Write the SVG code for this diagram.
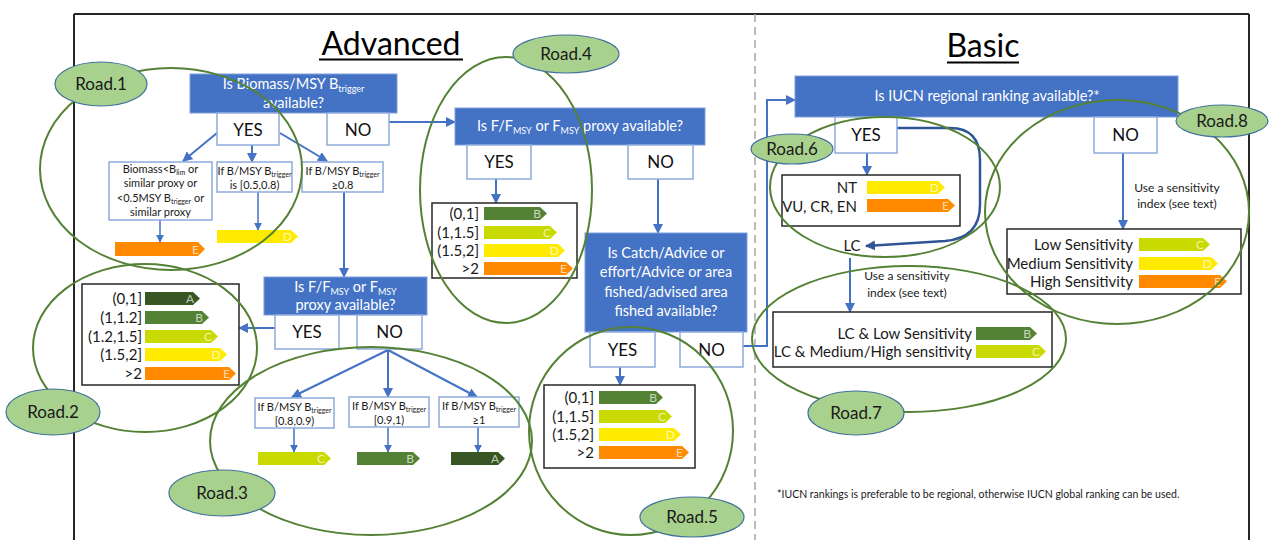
<svg xmlns="http://www.w3.org/2000/svg" width="1276" height="540" viewBox="0 0 1276 540">
<defs>
<style>
text{font-family:Lato,'Liberation Sans',sans-serif}
.q{fill:#4472C4;stroke:#7f9fdc;stroke-width:1}
.qt{fill:#fff;font-size:14.5px;text-anchor:middle}
.w{fill:#fff;stroke:#8EAADB;stroke-width:1.5}
.yn{fill:#111;font-size:17px;text-anchor:middle}
.st{fill:#1a1a1a;font-size:11px;text-anchor:middle}
.tb{fill:#fff;stroke:#262626;stroke-width:1.5}
.lb{fill:#1a1a1a;font-size:15px;text-anchor:end}
.A{fill:#375623}.B{fill:#548235}.C{fill:#C9DA00}.D{fill:#FFEB00}.E{fill:#FF8A00}
.bl{fill:#fff;fill-opacity:.7;font-size:12px;text-anchor:end}
.c{fill:none;stroke:#4472C4;stroke-width:2}
.cs{fill:none;stroke:#4472C4;stroke-width:1.5}
.ring{fill:none;stroke:#548235;stroke-width:2}
.rl{fill:#A9D18E;stroke:#41719C;stroke-width:1.2}
.rt{fill:#1a1a1a;font-size:17px;text-anchor:middle}
.ttl{fill:#000;font-size:32px;text-anchor:middle}
.sn{fill:#1a1a1a;font-size:12px;text-anchor:middle}
</style>
<marker id="ah" viewBox="0 0 10 10" refX="9" refY="5" markerWidth="10" markerHeight="10" markerUnits="userSpaceOnUse" orient="auto"><path d="M0,0L10,5L0,10z" fill="#4472C4"/></marker>
<marker id="ahs" viewBox="0 0 10 10" refX="9" refY="5" markerWidth="8" markerHeight="8" markerUnits="userSpaceOnUse" orient="auto"><path d="M0,0L10,5L0,10z" fill="#4472C4"/></marker>
<marker id="ahd" viewBox="0 0 10 10" refX="9" refY="5" markerWidth="10" markerHeight="10" markerUnits="userSpaceOnUse" orient="auto"><path d="M0,0L10,5L0,10z" fill="#2F5597"/></marker>
</defs>
<rect width="1276" height="540" fill="#fff"/>
<g id="frame">
<path d="M74,14H1249M74,14V540M1249,14V540" fill="none" stroke="#262626" stroke-width="2"/>
<path d="M755,14V540" stroke="#a6a6a6" stroke-width="1.5" stroke-dasharray="8,5"/>
<text class="ttl" x="391" y="55">Advanced</text>
<path d="M319,59.5H463" stroke="#000" stroke-width="2"/>
<text class="ttl" x="983" y="57">Basic</text>
<path d="M947,62.5H1019" stroke="#000" stroke-width="2"/>
</g>
<g id="connectors">
<path class="c" d="M217,133L183,161" marker-end="url(#ah)"/>
<path class="c" d="M252,145V162" marker-end="url(#ah)"/>
<path class="c" d="M280,133L327,161" marker-end="url(#ah)"/>
<path class="c" d="M389,122H455" marker-end="url(#ah)"/>
<path class="cs" d="M160,220V242" marker-end="url(#ahs)"/>
<path class="cs" d="M258,192V230" marker-end="url(#ahs)"/>
<path class="c" d="M344,192V277" marker-end="url(#ah)"/>
<path class="c" d="M496,179V203" marker-end="url(#ah)"/>
<path class="c" d="M658,179V233" marker-end="url(#ah)"/>
<path class="c" d="M275,328H239" marker-end="url(#ah)"/>
<path class="c" d="M388,350L292,397" marker-end="url(#ah)"/>
<path class="c" d="M388,350V397" marker-end="url(#ah)"/>
<path class="c" d="M388,350L477,397" marker-end="url(#ah)"/>
<path class="cs" d="M294,428V452" marker-end="url(#ahs)"/>
<path class="cs" d="M388,427V452" marker-end="url(#ahs)"/>
<path class="cs" d="M478,427V452" marker-end="url(#ahs)"/>
<path class="c" d="M620,367V385" marker-end="url(#ah)"/>
<path class="c" d="M743,346H767V100H795" marker-end="url(#ah)"/>
<path class="c" d="M867,153V175" marker-end="url(#ah)"/>
<path d="M897,128H950Q980,128 980,160V205Q980,238 945,241L866,246" fill="none" stroke="#2F5597" stroke-width="2.5" marker-end="url(#ahd)"/>
<path class="c" d="M850,258V312" marker-end="url(#ah)"/>
<path class="c" d="M1123,153V229" marker-end="url(#ah)"/>
</g>
<g id="q1">
<rect class="q" x="190" y="74" width="207" height="39"/>
<text class="qt" x="293.5" y="89">Is Biomass/MSY B<tspan font-size="9" dy="3">trigger</tspan></text>
<text class="qt" x="293.5" y="108">available?</text>
</g>
<g id="q1-yes"><rect class="w" x="217" y="113" width="62" height="32"/><text class="yn" x="248" y="136">YES</text></g>
<g id="q1-no"><rect class="w" x="327" y="113" width="62" height="32"/><text class="yn" x="358" y="136">NO</text></g>
<g id="b1">
<rect class="w" x="109" y="162" width="103" height="58"/>
<text class="st" x="160.5" y="173">Biomass&lt;B<tspan font-size="7" dy="2">lim</tspan><tspan dy="-2"> or</tspan></text>
<text class="st" x="160.5" y="187">similar proxy or</text>
<text class="st" x="160.5" y="202">&lt;0.5MSY B<tspan font-size="7" dy="2">trigger</tspan><tspan dy="-2"> or</tspan></text>
<text class="st" x="160.5" y="216">similar proxy</text>
</g>
<g id="b2">
<rect class="w" x="217" y="162" width="75" height="30"/>
<text class="st" x="254.5" y="175">If B/MSY B<tspan font-size="7" dy="2">trigger</tspan></text>
<text class="st" x="254.5" y="189">is [0.5,0.8)</text>
</g>
<g id="b3">
<rect class="w" x="302" y="162" width="81" height="30"/>
<text class="st" x="342.5" y="175">If B/MSY B<tspan font-size="7" dy="2">trigger</tspan></text>
<text class="st" x="342.5" y="189">≥0.8</text>
</g>
<g id="bar-e1"><polygon class="E" points="115,242 198,242 205,249 198,256 115,256"/><text class="bl" x="199" y="254">E</text></g>
<g id="bar-d1"><polygon class="D" points="217,230 291,230 298,236.5 291,243 217,243"/><text class="bl" x="292" y="241">D</text></g>
<g id="q2">
<rect class="q" x="455" y="108" width="250" height="37"/>
<text class="qt" x="580" y="131">Is F/F<tspan font-size="9" dy="3">MSY</tspan><tspan dy="-3"> or F</tspan><tspan font-size="9" dy="3">MSY</tspan><tspan dy="-3"> proxy available?</tspan></text>
</g>
<g id="q2-yes"><rect class="w" x="467" y="145" width="64" height="34"/><text class="yn" x="499" y="168">YES</text></g>
<g id="q2-no"><rect class="w" x="628" y="145" width="65" height="34"/><text class="yn" x="660.5" y="168">NO</text></g>
<g id="table-road4">
<rect class="tb" x="432" y="203" width="145" height="75"/>
<text class="lb" x="479" y="219">(0,1]</text><text class="lb" x="479" y="238">(1,1.5]</text><text class="lb" x="479" y="256">(1.5,2]</text><text class="lb" x="479" y="274">&gt;2</text>
<polygon class="B" points="484,207 540,207 547,213.5 540,220 484,220"/><text class="bl" x="541" y="218">B</text>
<polygon class="C" points="484,226 550,226 557,232.5 550,239 484,239"/><text class="bl" x="551" y="237">C</text>
<polygon class="D" points="484,244 558,244 565,250.5 558,257 484,257"/><text class="bl" x="559" y="255">D</text>
<polygon class="E" points="484,262 566,262 573,268.5 566,275 484,275"/><text class="bl" x="567" y="273">E</text>
</g>
<g id="q3">
<rect class="q" x="585" y="233" width="162" height="99"/>
<text class="qt" x="666" y="258">Is Catch/Advice or</text>
<text class="qt" x="666" y="277">effort/Advice or area</text>
<text class="qt" x="666" y="297">fished/advised area</text>
<text class="qt" x="666" y="316">fished available?</text>
</g>
<g id="q3-yes"><rect class="w" x="590" y="332" width="65" height="35"/><text class="yn" x="622.5" y="356">YES</text></g>
<g id="q3-no"><rect class="w" x="680" y="332" width="63" height="35"/><text class="yn" x="711.5" y="356">NO</text></g>
<g id="table-road5">
<rect class="tb" x="544" y="385" width="151" height="83"/>
<text class="lb" x="594" y="403">(0,1]</text><text class="lb" x="594" y="422">(1,1.5]</text><text class="lb" x="594" y="440">(1.5,2]</text><text class="lb" x="594" y="458">&gt;2</text>
<polygon class="B" points="599,391 656,391 663,397.5 656,404 599,404"/><text class="bl" x="657" y="402">B</text>
<polygon class="C" points="599,410 665,410 672,416.5 665,423 599,423"/><text class="bl" x="666" y="421">C</text>
<polygon class="D" points="599,428 674,428 681,434.5 674,441 599,441"/><text class="bl" x="675" y="439">D</text>
<polygon class="E" points="599,446 682,446 689,452.5 682,459 599,459"/><text class="bl" x="683" y="457">E</text>
</g>
<g id="q4">
<rect class="q" x="264" y="277" width="163" height="38"/>
<text class="qt" x="345.5" y="292">Is F/F<tspan font-size="9" dy="3">MSY</tspan><tspan dy="-3"> or F</tspan><tspan font-size="9" dy="3">MSY</tspan></text>
<text class="qt" x="345.5" y="310">proxy available?</text>
</g>
<g id="q4-yes"><rect class="w" x="275" y="315" width="64" height="34"/><text class="yn" x="307" y="338">YES</text></g>
<g id="q4-no"><rect class="w" x="357" y="315" width="65" height="34"/><text class="yn" x="389.5" y="338">NO</text></g>
<g id="table-road2">
<rect class="tb" x="82" y="284" width="157" height="101"/>
<text class="lb" x="142" y="304">(0,1]</text><text class="lb" x="142" y="323">(1,1.2]</text><text class="lb" x="142" y="342">(1.2,1.5]</text><text class="lb" x="142" y="360">(1.5,2]</text><text class="lb" x="142" y="379">&gt;2</text>
<polygon class="A" points="145,292 193,292 200,298.5 193,305 145,305"/><text class="bl" x="194" y="303">A</text>
<polygon class="B" points="145,311 202,311 209,317.5 202,324 145,324"/><text class="bl" x="203" y="322">B</text>
<polygon class="C" points="145,330 211,330 218,336.5 211,343 145,343"/><text class="bl" x="212" y="341">C</text>
<polygon class="D" points="145,348 220,348 227,354.5 220,361 145,361"/><text class="bl" x="221" y="359">D</text>
<polygon class="E" points="145,367 229,367 236,373.5 229,380 145,380"/><text class="bl" x="230" y="378">E</text>
</g>
<g id="c1">
<rect class="w" x="255" y="398" width="79" height="30"/>
<text class="st" x="294.5" y="411">If B/MSY B<tspan font-size="7" dy="2">trigger</tspan></text>
<text class="st" x="294.5" y="425">[0.8,0.9)</text>
</g>
<g id="c2">
<rect class="w" x="349" y="397" width="80" height="30"/>
<text class="st" x="389" y="410">If B/MSY B<tspan font-size="7" dy="2">trigger</tspan></text>
<text class="st" x="389" y="424">[0.9,1)</text>
</g>
<g id="c3">
<rect class="w" x="439" y="397" width="80" height="30"/>
<text class="st" x="479" y="410">If B/MSY B<tspan font-size="7" dy="2">trigger</tspan></text>
<text class="st" x="479" y="424">≥1</text>
</g>
<g id="bar-c1"><polygon class="C" points="258,452 324,452 331,458.5 324,465 258,465"/><text class="bl" x="325" y="463">C</text></g>
<g id="bar-b1"><polygon class="B" points="357,452 413,452 420,458.5 413,465 357,465"/><text class="bl" x="414" y="463">B</text></g>
<g id="bar-a1"><polygon class="A" points="451,452 498,452 505,458.5 498,465 451,465"/><text class="bl" x="499" y="463">A</text></g>
<g id="iucn">
<rect class="q" x="795" y="76" width="383" height="41"/>
<text class="qt" x="987" y="101">Is IUCN regional ranking available?*</text>
</g>
<g id="iucn-yes"><rect class="w" x="835" y="117" width="62" height="36"/><text class="yn" x="866" y="141">YES</text></g>
<g id="iucn-no"><rect class="w" x="1094" y="117" width="63" height="36"/><text class="yn" x="1125.5" y="141">NO</text></g>
<g id="table-nt">
<rect class="tb" x="782" y="175" width="178" height="51"/>
<text class="lb" x="857" y="193">NT</text><text class="lb" x="857" y="212">VU, CR, EN</text>
<polygon class="D" points="867,181 938,181 945,187.5 938,194 867,194"/><text class="bl" x="939" y="192">D</text>
<polygon class="E" points="867,199 948,199 955,205.5 948,212 867,212"/><text class="bl" x="949" y="210">E</text>
</g>
<g id="lc"><text fill="#1a1a1a" font-size="15" text-anchor="middle" x="852" y="251">LC</text></g>
<g id="note-lc"><text class="sn" x="907" y="280">Use a sensitivity</text><text class="sn" x="907" y="297">index (see text)</text></g>
<g id="table-lc">
<rect class="tb" x="773" y="312" width="279" height="55"/>
<text class="lb" x="972" y="339">LC &amp; Low Sensitivity</text><text class="lb" x="972" y="357">LC &amp; Medium/High sensitivity</text>
<polygon class="B" points="976,327 1030,327 1037,333.5 1030,340 976,340"/><text class="bl" x="1031" y="338">B</text>
<polygon class="C" points="976,345 1039,345 1046,351.5 1039,358 976,358"/><text class="bl" x="1040" y="356">C</text>
</g>
<g id="note-no"><text class="sn" x="1177" y="192">Use a sensitivity</text><text class="sn" x="1177" y="208">index (see text)</text></g>
<g id="table-sens">
<rect class="tb" x="1007" y="229" width="234" height="65"/>
<text class="lb" x="1133" y="250">Low Sensitivity</text><text class="lb" x="1133" y="269">Medium Sensitivity</text><text class="lb" x="1133" y="287">High Sensitivity</text>
<polygon class="C" points="1139,238 1203,238 1210,244.5 1203,251 1139,251"/><text class="bl" x="1204" y="249">C</text>
<polygon class="D" points="1139,257 1211,257 1218,263.5 1211,270 1139,270"/><text class="bl" x="1212" y="268">D</text>
<polygon class="E" points="1139,275 1220,275 1227,281.5 1220,288 1139,288"/><text class="bl" x="1221" y="286">E</text>
</g>
<g id="footnote"><text fill="#1a1a1a" font-size="10.5" x="777" y="498">*IUCN rankings is preferable to be regional, otherwise IUCN global ranking can be used.</text></g>
<g id="roads">
<ellipse class="ring" cx="171" cy="169" rx="131" ry="101"/>
<ellipse class="ring" cx="145" cy="348" rx="112" ry="84"/>
<ellipse class="ring" cx="371" cy="441" rx="161" ry="94"/>
<ellipse class="ring" cx="506" cy="190" rx="86" ry="133"/>
<ellipse class="ring" cx="631" cy="431" rx="102" ry="104"/>
<ellipse class="ring" cx="885" cy="187" rx="115" ry="70"/>
<ellipse class="ring" cx="909" cy="339" rx="157" ry="73"/>
<ellipse class="ring" cx="1117" cy="212" rx="132" ry="112"/>
</g>
<g id="road1"><ellipse class="rl" cx="101" cy="84" rx="46" ry="22"/><text class="rt" x="101" y="90">Road.1</text></g>
<g id="road2"><ellipse class="rl" cx="53" cy="412" rx="47" ry="23"/><text class="rt" x="53" y="418">Road.2</text></g>
<g id="road3"><ellipse class="rl" cx="222" cy="493" rx="53" ry="23"/><text class="rt" x="222" y="499">Road.3</text></g>
<g id="road4"><ellipse class="rl" cx="566" cy="54" rx="53" ry="19"/><text class="rt" x="566" y="60">Road.4</text></g>
<g id="road5"><ellipse class="rl" cx="692" cy="517" rx="52" ry="20"/><text class="rt" x="692" y="523">Road.5</text></g>
<g id="road6"><ellipse class="rl" cx="792" cy="149" rx="41" ry="15"/><text class="rt" x="792" y="155" font-size="16">Road.6</text></g>
<g id="road7"><ellipse class="rl" cx="856" cy="413" rx="48" ry="22"/><text class="rt" x="856" y="419">Road.7</text></g>
<g id="road8"><ellipse class="rl" cx="1222" cy="121" rx="46" ry="16"/><text class="rt" x="1222" y="127" font-size="16">Road.8</text></g>
</svg>
